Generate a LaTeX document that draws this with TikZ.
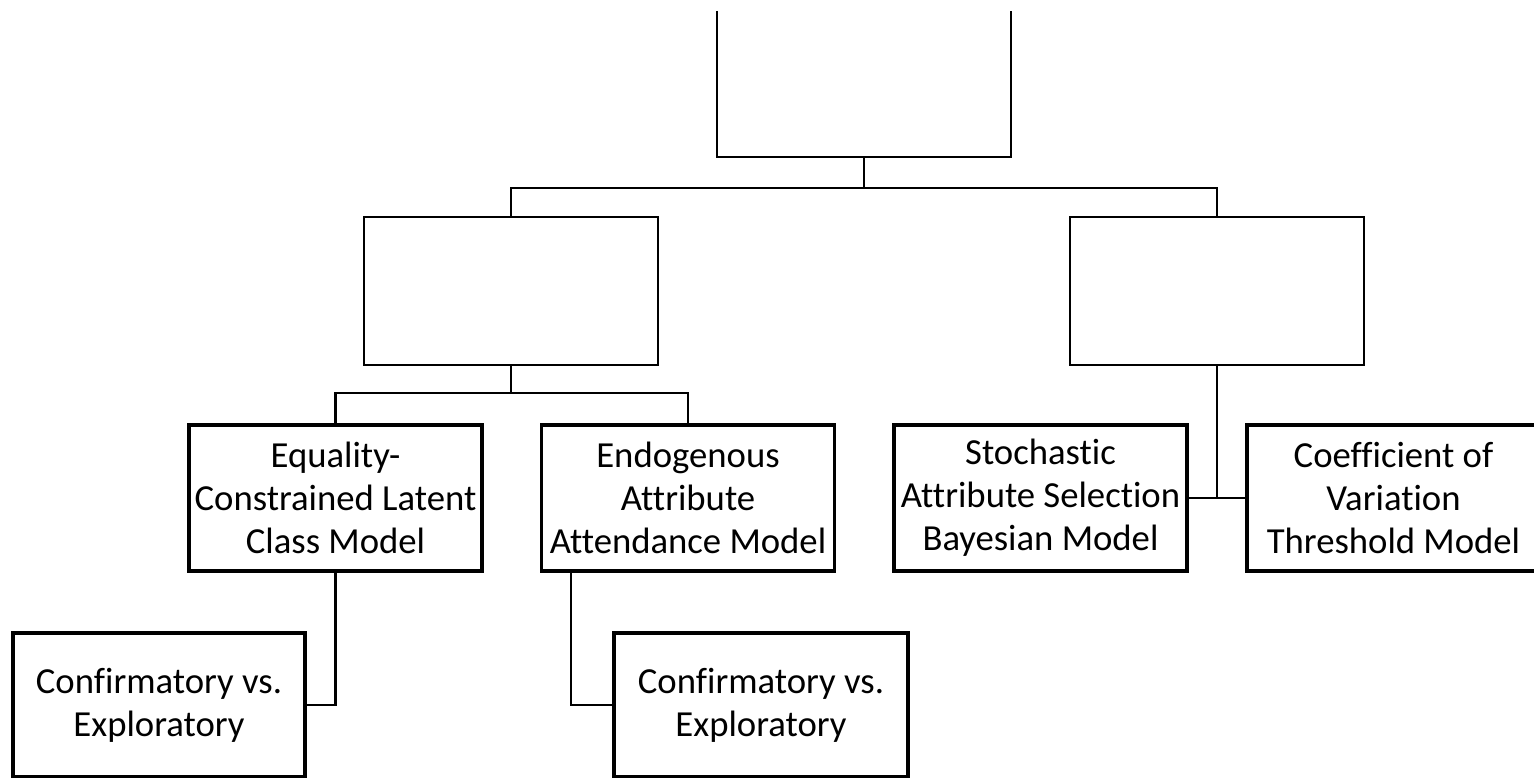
\documentclass[tikz,border=0pt]{standalone}
\usepackage{fontspec}
\setmainfont{Carlito}[Ligatures=NoCommon]
\begin{document}
\begin{tikzpicture}[x=1pt,y=-1pt,
  conn/.style={line width=2.6pt, line cap=rect},
  box/.style={draw, line width=2.4pt, minimum width=294pt, minimum height=148pt, inner sep=0pt},
  leaf/.style={draw, line width=3.8pt, minimum width=293pt, minimum height=146pt, inner sep=0pt,
    align=center, font=\fontsize{36.7}{43}\selectfont}]
\useasboundingbox (0,0) rectangle (1534,778);
% top box (open at the top)
\node[minimum width=294pt, minimum height=146pt, inner sep=0pt] (T) at (864,84) {};
\draw[line width=2.4pt] (T.north west) -- (T.south west) -- (T.south east) -- (T.north east);
% second level
\node[box] (A) at (511,291) {};
\node[box] (B) at (1217,291) {};
% third level
\node[leaf] (ECLC) at (335.5,498) {Equality-\\Constrained Latent\\Class Model};
\node[leaf] (EAAM) at (688,498) {Endogenous\\Attribute\\Attendance Model};
\node[leaf] (SASBM) at (1040.5,498) {Stochastic\\Attribute Selection\\Bayesian Model};
\node[leaf] (CVTM) at (1393.5,498) {Coefficient of\\Variation\\Threshold Model};
% fourth level
\node[leaf, minimum width=292pt, minimum height=144pt] (C1) at (159,705) {Confirmatory vs.\\Exploratory};
\node[leaf, minimum width=294pt, minimum height=144pt] (C2) at (761,705) {Confirmatory vs.\\Exploratory};
% connectors
\coordinate (j1) at (864,188);
\draw[conn] (T.south) -- (j1);
\draw[conn] (A.north) |- (j1) -| (B.north);
\coordinate (j2) at (511,393);
\draw[conn] (A.south) -- (j2);
\draw[conn] (ECLC.north) |- (j2) -| (EAAM.north);
\draw[conn] (ECLC.south) |- (C1.east);
\coordinate (e1) at ([xshift=-117pt]EAAM.south);
\draw[conn] (e1) |- (C2.west);
\coordinate (j3) at (B.south |- SASBM.east);
\draw[conn] (B.south) -- (j3);
\draw[conn] (SASBM.east) -- (CVTM.west);
\end{tikzpicture}
\end{document}
